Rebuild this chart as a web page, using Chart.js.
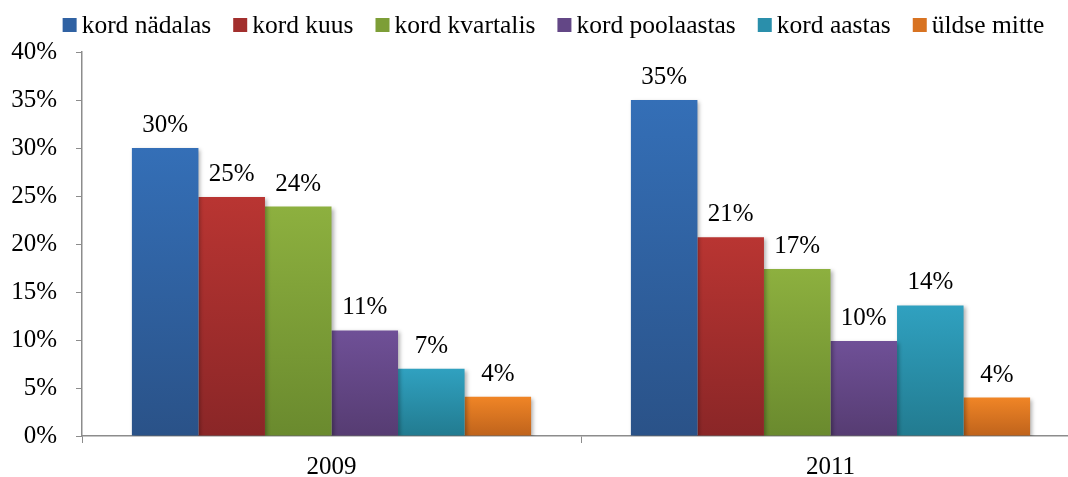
<!DOCTYPE html>
<html>
<head>
<meta charset="utf-8">
<script src="https://cdn.jsdelivr.net/npm/chart.js@4.4.1/dist/chart.umd.min.js"></script>
<style>
  html, body { margin: 0; padding: 0; background: #fff; overflow: hidden; }
  #wrap { width: 1080px; height: 477px; }
</style>
</head>
<body>
<div id="wrap"><canvas id="c"></canvas></div>
<script>
const years = ['2009', '2011'];
const seriesNames = ['kord nädalas', 'kord kuus', 'kord kvartalis', 'kord poolaastas', 'kord aastas', 'üldse mitte'];
const weekly = [30.0, 35.0];
const monthly = [24.9, 20.7];
const quarterly = [23.9, 17.4];
const halfYearly = [11.0, 9.9];
const yearly = [7.0, 13.6];
const never = [4.1, 4.0];

const topColors = ['#346fb7', '#b93532', '#8db03f', '#6f5097', '#30a1c0', '#f08526'];
const bottomColors = ['#2a5288', '#8a2627', '#6a8a2e', '#563c72', '#227b90', '#bf631c'];
const midColors = ['#3062a3', '#a22f2d', '#7d9e37', '#634786', '#2a8fab', '#d87322'];

const FONT = "'Liberation Serif', 'Times New Roman', serif";
const FSIZE = 25;

function barGradient(i) {
  return function (ctx) {
    const chart = ctx.chart;
    const y = chart.scales && chart.scales.y;
    if (!chart.chartArea || !y || ctx.raw === undefined) return midColors[i];
    const top = y.getPixelForValue(ctx.raw);
    const base = y.getPixelForValue(0);
    const g = chart.ctx.createLinearGradient(0, top, 0, base);
    g.addColorStop(0, topColors[i]);
    g.addColorStop(1, bottomColors[i]);
    return g;
  };
}

const allSeries = [weekly, monthly, quarterly, halfYearly, yearly, never];

const shadowPlugin = {
  id: 'barShadow',
  beforeDatasetsDraw(chart) {
    const c = chart.ctx;
    c.save();
    c.shadowColor = 'rgba(0,0,0,0.3)';
    c.shadowBlur = 4;
    c.shadowOffsetX = 2;
    c.shadowOffsetY = 2;
  },
  afterDatasetsDraw(chart) {
    chart.ctx.restore();
  }
};

const labelPlugin = {
  id: 'valueLabels',
  afterDatasetsDraw(chart) {
    const c = chart.ctx;
    c.save();
    c.font = FSIZE + 'px ' + FONT;
    c.fillStyle = '#000';
    c.textAlign = 'center';
    c.textBaseline = 'alphabetic';
    chart.data.datasets.forEach((ds, i) => {
      chart.getDatasetMeta(i).data.forEach((el, j) => {
        c.fillText(Math.round(ds.data[j]) + '%', el.x, el.y - 16);
      });
    });
    c.restore();
  }
};

// legend drawn by hand: small box, tight gap to text, like the original
const legendPlugin = {
  id: 'topLegend',
  afterDraw(chart) {
    const c = chart.ctx;
    c.save();
    c.font = '25.5px ' + FONT;
    c.textBaseline = 'middle';
    c.textAlign = 'left';
    const box = 14, gap = 5, itemGap = 22, cy = 25;
    const widths = seriesNames.map(t => box + gap + c.measureText(t).width);
    const total = widths.reduce((a, b) => a + b, 0) + itemGap * (widths.length - 1);
    let x = 553.5 - total / 2;
    seriesNames.forEach((t, i) => {
      c.fillStyle = midColors[i];
      c.fillRect(x, cy - box / 2, box, box);
      c.fillStyle = '#000';
      c.fillText(t, x + box + gap, cy + 1);
      x += widths[i] + itemGap;
    });
    c.restore();
  }
};

new Chart(document.getElementById('c'), {
  type: 'bar',
  data: {
    labels: years,
    datasets: allSeries.map((d, i) => ({
      label: seriesNames[i],
      data: d,
      backgroundColor: barGradient(i),
      borderWidth: 0,
      categoryPercentage: 0.8,
      barPercentage: 1.0
    }))
  },
  options: {
    responsive: true,
    maintainAspectRatio: false,
    animation: false,
    layout: { padding: { top: 52, left: 0, right: 0, bottom: 0 } },
    plugins: {
      tooltip: { enabled: false },
      legend: { display: false }
    },
    scales: {
      x: {
        grid: { display: true, drawOnChartArea: false, offset: true, tickLength: 7, color: '#8c8c8c' },
        border: { color: '#8c8c8c', width: 1.5 },
        ticks: { font: { family: FONT, size: FSIZE }, color: '#000', padding: 9 },
        afterFit(scale) { scale.height = 41; }
      },
      y: {
        min: 0,
        max: 40,
        grid: { display: true, drawOnChartArea: false, tickLength: 6, color: '#8c8c8c' },
        border: { color: '#8c8c8c', width: 1.5 },
        ticks: {
          stepSize: 5,
          font: { family: FONT, size: FSIZE },
          color: '#000',
          padding: 19,
          callback: v => v + '%'
        },
        afterFit(scale) { scale.width = 82; }
      }
    }
  },
  plugins: [shadowPlugin, labelPlugin, legendPlugin]
});
</script>
</body>
</html>
